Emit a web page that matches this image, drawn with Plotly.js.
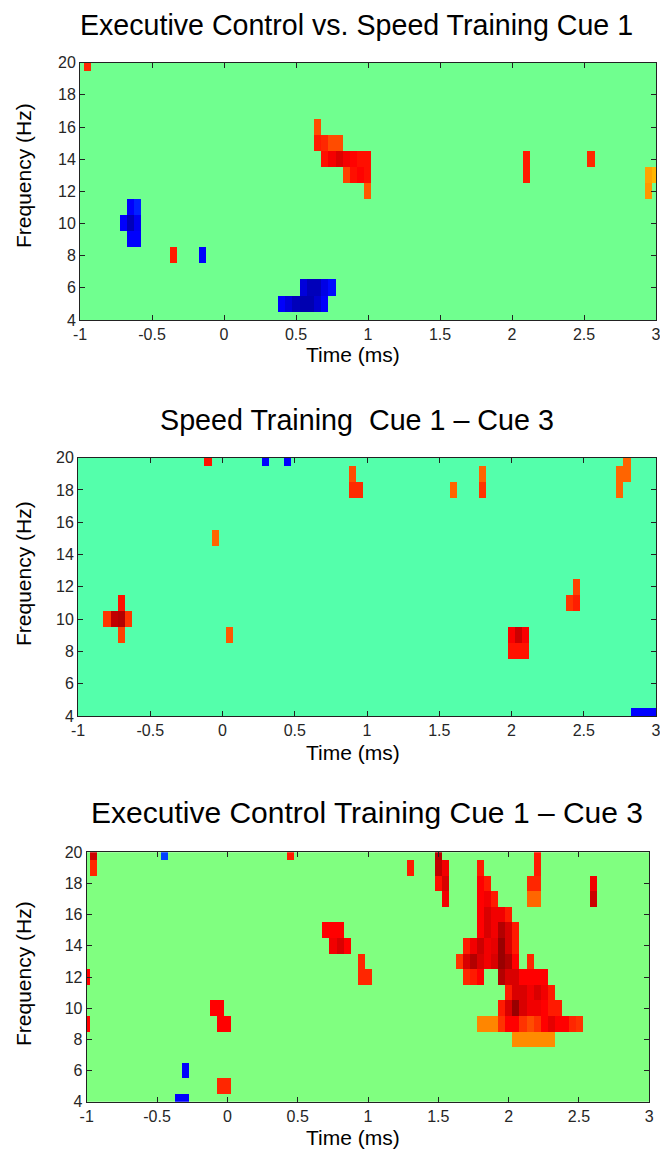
<!DOCTYPE html>
<html>
<head>
<meta charset="utf-8">
<script src="https://cdn.plot.ly/plotly-3.0.1.min.js"></script>
<style>
  html, body { margin: 0; padding: 0; background: #ffffff; }
  #chart { width: 660px; height: 1149px; }
</style>
</head>
<body>
<div id="chart"></div>
<script>
// ---------- Axis tick labels ----------
const xTickVals = [-1, -0.5, 0, 0.5, 1, 1.5, 2, 2.5, 3];
const xTickText = ["-1", "-0.5", "0", "0.5", "1", "1.5", "2", "2.5", "3"];
const yTickVals = [4, 6, 8, 10, 12, 14, 16, 18, 20];
const yTickText = ["4", "6", "8", "10", "12", "14", "16", "18", "20"];

// Frequency bins (Hz)
const freqBins = [4, 5, 6, 7, 8, 9, 10, 11, 12, 13, 14, 15, 16, 17, 18, 19, 20];

// ---------- Panel titles ----------
const panelTitles = [
  "Executive Control vs. Speed Training Cue 1",
  "Speed Training  Cue 1 \u2013 Cue 3",
  "Executive Control Training Cue 1 \u2013 Cue 3"
];

// ---------- Panel 1: Executive Control vs. Speed Training Cue 1 (significant cells) ----------
const p1Time = [-0.95, -0.7, -0.65, -0.65, -0.65, -0.6, -0.6, -0.6, -0.35, -0.15,
  0.65, 0.65, 0.7, 0.75, 0.8,
  0.7, 0.75, 0.8, 0.85, 0.9, 0.95, 1.0,
  0.85, 0.9, 0.95, 1.0, 1.0,
  2.1, 2.1, 2.55, 2.95, 3.0, 2.95,
  0.55, 0.6, 0.65, 0.7, 0.75,
  0.4, 0.45, 0.5, 0.55, 0.6, 0.65, 0.7];
const p1Freq = [20, 10, 11, 10, 9, 11, 10, 9, 8, 8,
  16, 15, 15, 15, 15,
  14, 14, 14, 14, 14, 14, 14,
  13, 13, 13, 13, 12,
  14, 13, 14, 13, 13, 12,
  6, 6, 6, 6, 6,
  5, 5, 5, 5, 5, 5, 5];
const p1Value = [2.9, -3.0, -3.0, -3.6, -3.0, -2.7, -3.1, -3.0, 3.0, -3.0,
  2.6, 3.0, 2.9, 2.6, 2.6,
  3.1, 3.3, 3.5, 3.3, 3.2, 3.1, 3.1,
  2.7, 3.1, 3.2, 3.1, 2.5,
  3.0, 3.0, 2.9, 1.9, 1.75, 2.0,
  -3.3, -3.6, -3.6, -3.2, -2.9,
  -3.0, -3.3, -3.6, -3.7, -3.7, -3.4, -3.0];

// ---------- Panel 2: Speed Training Cue 1 - Cue 3 ----------
const p2Time = [-0.1, 0.3, 0.45, 0.9, 0.9, 0.95, -0.05,
  -0.8, -0.75, -0.7, -0.65, -0.7, -0.7, 0.05,
  1.6, 1.8, 1.8, 2.75, 2.75, 2.8, 2.8,
  2.4, 2.45, 2.45,
  2.0, 2.05, 2.1, 2.0, 2.05, 2.1,
  2.85, 2.9, 2.95, 3.0];
const p2Freq = [20, 20, 20, 19, 18, 18, 15,
  10, 10, 10, 10, 11, 9, 9,
  18, 19, 18, 19, 18, 20, 19,
  11, 12, 11,
  9, 9, 9, 8, 8, 8,
  4, 4, 4, 4];
const p2Value = [3.5, -2.9, -2.9, 3.0, 3.3, 3.3, 2.8,
  3.2, 4.2, 4.3, 3.2, 3.5, 3.1, 2.9,
  2.8, 2.8, 3.2, 2.8, 2.8, 2.8, 2.8,
  3.2, 3.1, 3.4,
  3.7, 4.1, 3.7, 3.5, 3.5, 3.5,
  -2.9, -2.9, -2.9, -2.9];

// ---------- Panel 3: Executive Control Training Cue 1 - Cue 3 ----------
const p3Time = [-0.95, -0.95, -0.45, 0.45, -1.0, -1.0,
  -0.1, -0.05, -0.05, 0.0, -0.3, -0.35, -0.3, -0.05, 0.0,
  0.7, 0.75, 0.8, 0.75, 0.8, 0.85, 0.95, 0.95, 1.0,
  1.3, 1.5, 1.5, 1.5, 1.55, 1.55, 1.55,
  1.8, 1.8, 1.85, 1.8, 1.85, 1.9,
  1.8, 1.85, 1.9, 1.95, 2.0,
  1.8, 1.85, 1.9, 1.95, 2.0, 2.05,
  1.7, 1.75, 1.8, 1.85, 1.9, 1.95, 2.0, 2.05,
  1.65, 1.7, 1.75, 1.8, 1.85, 1.9, 1.95, 2.0, 2.05, 2.15,
  1.7, 1.75, 1.8, 1.95, 2.0, 2.05, 2.1, 2.15, 2.2, 2.25,
  2.0, 2.05, 2.1, 2.15, 2.2, 2.25, 2.3,
  1.95, 2.0, 2.05, 2.1, 2.15, 2.2, 2.25, 2.3, 2.35,
  1.8, 1.85, 1.9, 1.95, 2.0, 2.05, 2.1, 2.15, 2.2, 2.25, 2.3, 2.35, 2.4, 2.45, 2.5,
  2.05, 2.1, 2.15, 2.2, 2.25, 2.3,
  2.2, 2.2, 2.15, 2.2, 2.15, 2.2, 2.6, 2.6];
const p3Freq = [20, 19, 20, 20, 12, 9,
  10, 10, 9, 9, 6, 4, 4, 5, 5,
  15, 15, 15, 14, 14, 14, 13, 12, 12,
  19, 20, 19, 18, 19, 18, 17,
  19, 18, 18, 17, 17, 17,
  16, 16, 16, 16, 16,
  15, 15, 15, 15, 15, 15,
  14, 14, 14, 14, 14, 14, 14, 14,
  13, 13, 13, 13, 13, 13, 13, 13, 13, 13,
  12, 12, 12, 12, 12, 12, 12, 12, 12, 12,
  11, 11, 11, 11, 11, 11, 11,
  10, 10, 10, 10, 10, 10, 10, 10, 10,
  9, 9, 9, 9, 9, 9, 9, 9, 9, 9, 9, 9, 9, 9, 9,
  8, 8, 8, 8, 8, 8,
  20, 19, 18, 18, 17, 17, 18, 17];
const p3Value = [3.4, 2.7, -2.5, 2.8, 3.0, 3.0,
  3.0, 3.0, 3.0, 3.0, -3.0, -3.0, -3.0, 2.7, 2.7,
  3.0, 3.0, 3.0, 3.1, 3.3, 3.0, 2.7, 2.7, 2.7,
  2.8, 3.6, 3.5, 2.9, 3.1, 3.3, 3.1,
  2.8, 3.0, 2.8, 3.0, 3.1, 2.8,
  3.0, 3.3, 3.1, 3.1, 2.8,
  3.0, 3.3, 3.1, 3.6, 3.3, 2.8,
  2.8, 3.1, 3.4, 3.1, 3.2, 3.8, 3.3, 2.8,
  2.6, 3.3, 3.6, 3.3, 3.1, 3.3, 3.8, 3.6, 3.0, 2.7,
  2.7, 2.8, 3.0, 3.6, 3.3, 3.3, 3.0, 3.0, 3.0, 3.0,
  2.8, 3.3, 3.3, 3.1, 3.3, 3.1, 2.8,
  2.8, 3.3, 3.8, 3.3, 3.1, 3.1, 3.0, 2.8, 2.8,
  1.95, 1.95, 1.95, 2.6, 3.0, 3.0, 2.6, 2.4, 2.6, 3.0, 3.2, 3.0, 3.0, 2.7, 2.6,
  1.9, 1.9, 1.9, 1.9, 1.9, 1.9,
  2.8, 2.8, 2.7, 2.7, 2.2, 2.2, 3.1, 3.4];

// Colour limits of each panel (as in the original figures)
const p1Clim = [-4, 4.25];
const p2Clim = [-4, 4.75];
const p3Clim = [-4, 4];

// ---------- Build the grids ----------
const timeBins = [];
for (let i = 0; i <= 80; i++) timeBins.push(Math.round((-1 + i * 0.05) * 100) / 100);

function buildGrid(times, freqs, vals) {
  const z = freqBins.map(() => timeBins.map(() => 0));
  for (let k = 0; k < times.length; k++) {
    const i = freqBins.indexOf(freqs[k]);
    const j = Math.round((times[k] + 1) / 0.05);
    if (i >= 0 && j >= 0 && j < timeBins.length) z[i][j] = vals[k];
  }
  return z;
}

const jet = [
  [0, '#00008F'], [0.125, '#0000FF'], [0.375, '#00FFFF'],
  [0.625, '#FFFF00'], [0.875, '#FF0000'], [1, '#800000']
];

function hm(times, freqs, vals, clim, xa, ya) {
  return {
    type: 'heatmap', x: timeBins, y: freqBins, z: buildGrid(times, freqs, vals),
    colorscale: jet, zmin: clim[0], zmax: clim[1], showscale: false,
    zsmooth: false, hoverinfo: 'skip', xaxis: xa, yaxis: ya
  };
}

const data = [
  hm(p1Time, p1Freq, p1Value, p1Clim, 'x', 'y'),
  hm(p2Time, p2Freq, p2Value, p2Clim, 'x2', 'y2'),
  hm(p3Time, p3Freq, p3Value, p3Clim, 'x3', 'y3')
];

const W = 660, H = 1149;
const FONT = 'Liberation Sans, Arial, Helvetica, sans-serif';
const px = v => v / W;
const py = v => 1 - v / H;

function xa(l, r, anchor) {
  return {
    domain: [px(l), px(r)], anchor: anchor, range: [-1, 3],
    tickmode: 'array', tickvals: xTickVals, ticktext: xTickText,
    ticks: 'inside', ticklen: 5, tickwidth: 1, tickcolor: '#222',
    showline: true, linecolor: '#222', linewidth: 1, mirror: 'ticks',
    showgrid: false, zeroline: false, ticklabeloverflow: 'allow',
    tickfont: { family: FONT, size: 16, color: '#262626' }
  };
}
function ya(t, b, anchor) {
  return {
    domain: [py(b), py(t)], anchor: anchor, range: [4, 20],
    tickmode: 'array', tickvals: yTickVals, ticktext: yTickText,
    ticks: 'inside', ticklen: 5, tickwidth: 1, tickcolor: '#222',
    showline: true, linecolor: '#222', linewidth: 1, mirror: 'ticks',
    showgrid: false, zeroline: false, ticklabeloverflow: 'allow',
    tickfont: { family: FONT, size: 16, color: '#262626' }
  };
}

function ann(text, x, y, size, angle) {
  return {
    text: text, x: px(x), y: py(y), xref: 'paper', yref: 'paper',
    xanchor: 'center', yanchor: 'middle', showarrow: false,
    textangle: angle || 0,
    font: { family: FONT, size: size, color: '#000' }
  };
}

const layout = {
  width: W, height: H,
  margin: { l: 0, r: 0, t: 0, b: 0 },
  paper_bgcolor: '#ffffff', plot_bgcolor: '#ffffff',
  showlegend: false,
  xaxis: xa(80, 656, 'y'), yaxis: ya(62.7, 320, 'x'),
  xaxis2: xa(78, 656, 'y2'), yaxis2: ya(457.7, 716, 'x2'),
  xaxis3: xa(86.7, 649.3, 'y3'), yaxis3: ya(852.3, 1101.7, 'x3'),
  annotations: [
    ann(panelTitles[0], 356, 25, 28.6),
    ann(panelTitles[1], 356.5, 420, 28.7),
    ann(panelTitles[2], 367.5, 812, 30),
    ann('Time (ms)', 353, 355, 21),
    ann('Time (ms)', 353, 752, 21),
    ann('Time (ms)', 353, 1137, 21),
    ann('Frequency (Hz)', 23, 176, 21, -90),
    ann('Frequency (Hz)', 23, 574, 21, -90),
    ann('Frequency (Hz)', 23, 974, 21, -90)
  ]
};

Plotly.newPlot('chart', data, layout, { staticPlot: true, displayModeBar: false });
</script>
</body>
</html>
